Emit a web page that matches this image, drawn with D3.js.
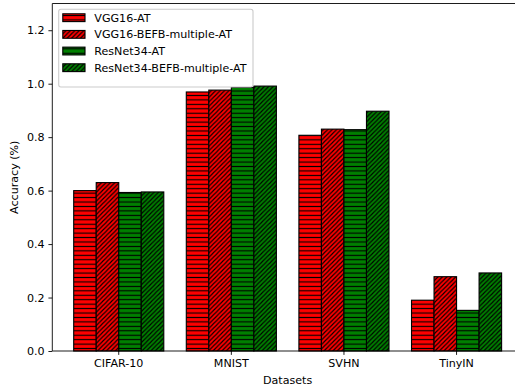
<!DOCTYPE html>
<html>
<head>
<meta charset="utf-8">
<script src="https://cdn.jsdelivr.net/npm/d3@7"></script>
<style>
    body { margin: 0; background: #fff; }
    text { font-family: "DejaVu Sans", sans-serif; fill: #000; }
</style>
</head>
<body>
<div id="chart"></div>
<script>
const categories = ['CIFAR-10', 'MNIST', 'SVHN', 'TinyIN'];
const seriesNames = ['VGG16-AT', 'VGG16-BEFB-multiple-AT', 'ResNet34-AT', 'ResNet34-BEFB-multiple-AT'];
const vgg16AT = [0.600, 0.969, 0.807, 0.190];
const vgg16BEFB = [0.630, 0.976, 0.830, 0.278];
const resnet34AT = [0.593, 0.986, 0.828, 0.152];
const resnet34BEFB = [0.595, 0.991, 0.897, 0.292];
const yTicks = [0.0, 0.2, 0.4, 0.6, 0.8, 1.0, 1.2];

const seriesValues = [vgg16AT, vgg16BEFB, resnet34AT, resnet34BEFB];
const fills = ['#ff0000', '#ff0000', '#008000', '#008000'];
const hatches = ['h', 'd', 'h', 'd'];

const width = 515, height = 391;
const margin = { top: 3.5, left: 52.3, right: -8, bottom: 40 };
const fs = 11.1;   // 10pt at 80 dpi
const pt = 1.111;

const svg = d3.select('#chart').append('svg')
    .attr('width', width)
    .attr('height', height);

// hatch patterns
const defs = svg.append('defs');
const s = 4.44;
fills.forEach((c, i) => {
    const p = defs.append('pattern')
        .attr('id', 'hatch' + i)
        .attr('patternUnits', 'userSpaceOnUse')
        .attr('width', s)
        .attr('height', s);
    p.append('rect').attr('width', s).attr('height', s).attr('fill', c);
    if (hatches[i] === 'h') {
        p.append('line')
            .attr('x1', 0).attr('x2', s)
            .attr('y1', s / 2).attr('y2', s / 2)
            .attr('stroke', '#000').attr('stroke-width', pt);
    } else {
        p.append('path')
            .attr('d', `M${-s / 2},${s / 2} L${s / 2},${-s / 2} M0,${s} L${s},0 M${s / 2},${s * 1.5} L${s * 1.5},${s / 2}`)
            .attr('stroke', '#000').attr('stroke-width', pt);
    }
});

const x0 = d3.scaleBand()
    .domain(categories)
    .range([margin.left, width - margin.right])
    .paddingInner(0.2)
    .paddingOuter(0.19);
const x1 = d3.scaleBand()
    .domain(seriesNames)
    .range([0, x0.bandwidth()]);
const y = d3.scaleLinear()
    .domain([0, 1.3])
    .range([height - margin.bottom, margin.top]);

// bars
const data = [];
categories.forEach((cat, ci) => {
    seriesNames.forEach((name, si) => {
        data.push({ cat: cat, name: name, si: si, value: seriesValues[si][ci] });
    });
});

svg.append('g').selectAll('rect')
    .data(data)
    .enter().append('rect')
    .attr('x', d => x0(d.cat) + x1(d.name))
    .attr('y', d => y(d.value))
    .attr('width', x1.bandwidth())
    .attr('height', d => y(0) - y(d.value))
    .attr('fill', d => 'url(#hatch' + d.si + ')')
    .attr('stroke', '#000')
    .attr('stroke-width', pt);

// axes
const xAxis = d3.axisBottom(x0).tickSize(3.5 * pt).tickPadding(3.5 * pt);
const yAxis = d3.axisLeft(y).tickValues(yTicks).tickFormat(d3.format('.1f'))
    .tickSize(3.5 * pt).tickPadding(3.5 * pt);

const gx = svg.append('g')
    .attr('transform', 'translate(0,' + y(0) + ')')
    .call(xAxis);
const gy = svg.append('g')
    .attr('transform', 'translate(' + margin.left + ',0)')
    .call(yAxis);
[gx, gy].forEach(g => {
    g.select('.domain').remove();
    g.selectAll('.tick line').attr('stroke', '#000').attr('stroke-width', 0.8 * pt);
    g.selectAll('.tick text').attr('font-size', fs).attr('font-family', '"DejaVu Sans", sans-serif');
});

// spines
const spine = svg.append('g').attr('fill', 'none').attr('stroke', '#000').attr('stroke-width', 0.8 * pt);
spine.append('line').attr('x1', margin.left).attr('x2', width - margin.right)
    .attr('y1', y(0)).attr('y2', y(0));
spine.append('line').attr('x1', margin.left).attr('x2', width - margin.right)
    .attr('y1', y(1.3)).attr('y2', y(1.3));
spine.append('line').attr('x1', margin.left).attr('x2', margin.left)
    .attr('y1', y(0)).attr('y2', y(1.3));

// axis labels
svg.append('text')
    .attr('x', (margin.left + width - margin.right) / 2)
    .attr('y', 384)
    .attr('text-anchor', 'middle')
    .attr('font-size', fs)
    .text('Datasets');
svg.append('text')
    .attr('transform', 'translate(18,' + (y(0) + y(1.3)) / 2 + ') rotate(-90)')
    .attr('text-anchor', 'middle')
    .attr('font-size', fs)
    .text('Accuracy (%)');

// legend
const legend = svg.append('g');
legend.append('rect')
    .attr('x', 58.7).attr('y', 9.3)
    .attr('width', 194.3).attr('height', 77.7)
    .attr('rx', 2.2)
    .attr('fill', '#fff').attr('fill-opacity', 0.8)
    .attr('stroke', '#cccccc').attr('stroke-width', pt);
const ly = d3.scalePoint().domain(seriesNames).range([17.7, 67.7]);
const items = legend.selectAll('.item')
    .data(seriesNames)
    .enter().append('g')
    .attr('transform', d => 'translate(0,' + ly(d) + ')');
items.append('rect')
    .attr('x', 62.8).attr('y', -3.9)
    .attr('width', 22.2).attr('height', 7.8)
    .attr('fill', (d, i) => 'url(#hatch' + i + ')')
    .attr('stroke', '#000').attr('stroke-width', pt);
items.append('text')
    .attr('x', 94.3)
    .attr('y', 4)
    .attr('font-size', fs)
    .text(d => d);
</script>
</body>
</html>
